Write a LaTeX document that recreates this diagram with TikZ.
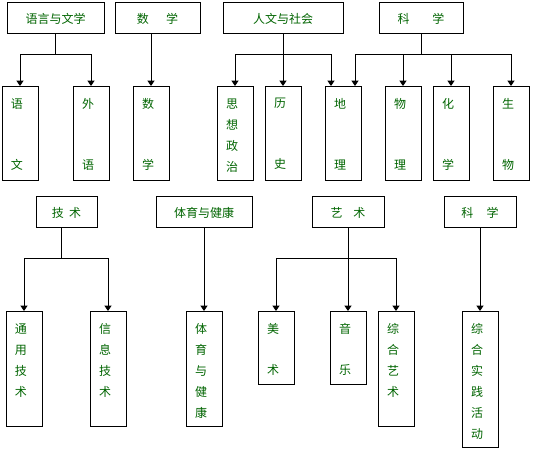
\documentclass[tikz,border=0pt]{standalone}
\usepackage{fontspec}
\newfontfamily\cjk{Noto Sans CJK SC}
\usepackage{xcolor}
\usetikzlibrary{arrows.meta,positioning}
\definecolor{txtgreen}{RGB}{0,100,0}

\begin{document}
\begin{tikzpicture}[
  x=0.75pt, y=-0.75pt,
  line width=0.75pt,
  font=\cjk\fontsize{9}{15.75}\selectfont,
  head/.style={draw, minimum height=23.25pt, inner sep=0pt, text=txtgreen},
  sub/.style={draw, anchor=north, minimum width=27pt, inner sep=0pt},
  subtxt/.style={anchor=north, inner sep=0pt, align=center, text=txtgreen},
  arr/.style={-{Triangle[width=5.25pt,length=4pt]}}
]
\useasboundingbox (0,0) rectangle (536,452);

% upper group
\node[head, minimum width=72.75pt] (yywx) at (55.5,18.5) {语言与文学};
\node[head, minimum width=63.75pt] (sxt)  at (157.5,18.5) {数\hspace{1.42em}学};
\node[head, minimum width=90pt]    (rwsh) at (283,18.5) {人文与社会};
\node[head, minimum width=63pt]    (kxt)  at (421,18.5) {科\hspace{1.9em}学};

\node[sub, minimum height=70.5pt] (yw)   at (20,86)  {};
\node[sub, minimum height=70.5pt] (wy)   at (91,86)  {};
\node[sub, minimum height=70.5pt] (sx)   at (151,86) {};
\node[sub, minimum height=70.5pt] (sxzz) at (235,86) {};
\node[sub, minimum height=70.5pt] (ls)   at (283,86) {};
\node[sub, minimum height=70.5pt] (dl)   at (343,86) {};
\node[sub, minimum height=70.5pt] (wl)   at (403,86) {};
\node[sub, minimum height=70.5pt] (hx)   at (451,86) {};
\node[sub, minimum height=70.5pt] (sw)   at (511,86) {};

\node[subtxt] (yw-t)   at ([xshift=-2.25pt,yshift=-9pt]yw.north)   {语\\[30pt]文};
\node[subtxt] (wy-t)   at ([xshift=-2.25pt,yshift=-9pt]wy.north)   {外\\[30pt]语};
\node[subtxt] (sx-t)   at ([xshift=-2.25pt,yshift=-9pt]sx.north)   {数\\[30pt]学};
\node[subtxt] (sxzz-t) at ([xshift=-2.25pt,yshift=-9pt]sxzz.north) {思\\想\\政\\治};
\node[subtxt] (ls-t)   at ([xshift=-2.25pt,yshift=-9pt]ls.north)   {历\\[30pt]史};
\node[subtxt] (dl-t)   at ([xshift=-2.25pt,yshift=-9pt]dl.north)   {地\\[30pt]理};
\node[subtxt] (wl-t)   at ([xshift=-2.25pt,yshift=-9pt]wl.north)   {物\\[30pt]理};
\node[subtxt] (hx-t)   at ([xshift=-2.25pt,yshift=-9pt]hx.north)   {化\\[30pt]学};
\node[subtxt] (sw-t)   at ([xshift=-2.25pt,yshift=-9pt]sw.north)   {生\\[30pt]物};

\coordinate (bar1) at (55.5,55);
\coordinate (bar3) at (283,55);
\coordinate (bar4) at (421,55);

\draw (yywx) -- (bar1);
\draw[arr] (bar1) -| (yw);
\draw[arr] (bar1) -| (wy);
\draw[arr] (sxt.south -| sx.north) -- (sx.north);
\draw[arr] (rwsh) -- (ls);
\draw[arr] (bar3) -| (sxzz);
\draw[arr] (bar3) -| ([xshift=-9pt]dl.north);
\draw (kxt) -- (bar4);
\draw[arr] (bar4) -| ([xshift=9pt]dl.north);
\draw[arr] (bar4) -| (wl);
\draw[arr] (bar4) -| (hx);
\draw[arr] (bar4) -| (sw);

% lower group
\node[head, minimum width=45.75pt] (js)   at (66.5,212.5) {技\hspace{0.42em}术};
\node[head, minimum width=72pt]    (tyjk) at (204,212.5)  {体育与健康};
\node[head, minimum width=54pt]    (ys)   at (348,212.5)  {艺\hspace{0.9em}术};
\node[head, minimum width=54pt]    (kx2)  at (480,212.5)  {科\hspace{1.1em}学};

\node[sub, minimum height=86.25pt] (tyjs)   at (24,311)  {};
\node[sub, minimum height=86.25pt] (xxjs)   at (108,311) {};
\node[sub, minimum height=86.25pt] (tyyjk)  at (204,311) {};
\node[sub, minimum height=54.75pt] (ms)     at (276,311) {};
\node[sub, minimum height=54.75pt] (yy)     at (348,311) {};
\node[sub, minimum height=86.25pt] (zhys)   at (396,311) {};
\node[sub, minimum height=102pt]   (zhsjhd) at (480,311) {};

\node[subtxt] (tyjs-t)   at ([xshift=-2.25pt,yshift=-9pt]tyjs.north)   {通\\用\\技\\术};
\node[subtxt] (xxjs-t)   at ([xshift=-2.25pt,yshift=-9pt]xxjs.north)   {信\\息\\技\\术};
\node[subtxt] (tyyjk-t)  at ([xshift=-2.25pt,yshift=-9pt]tyyjk.north)  {体\\育\\与\\健\\康};
\node[subtxt] (ms-t)     at ([xshift=-2.25pt,yshift=-9pt]ms.north)     {美\\[15pt]术};
\node[subtxt] (yy-t)     at ([xshift=-2.25pt,yshift=-9pt]yy.north)     {音\\[15pt]乐};
\node[subtxt] (zhys-t)   at ([xshift=-2.25pt,yshift=-9pt]zhys.north)   {综\\合\\艺\\术};
\node[subtxt] (zhsjhd-t) at ([xshift=-2.25pt,yshift=-9pt]zhsjhd.north) {综\\合\\实\\践\\活\\动};

\coordinate (bar5) at (61,259);
\coordinate (bar7) at (348,259);

\draw (js.south -| bar5) -- (bar5);
\draw[arr] (bar5) -| (tyjs);
\draw[arr] (bar5) -| (xxjs);
\draw[arr] (tyjk) -- (tyyjk);
\draw[arr] (ys) -- (yy);
\draw[arr] (bar7) -| (ms);
\draw[arr] (bar7) -| (zhys);
\draw[arr] (kx2) -- (zhsjhd);
\end{tikzpicture}
\end{document}
